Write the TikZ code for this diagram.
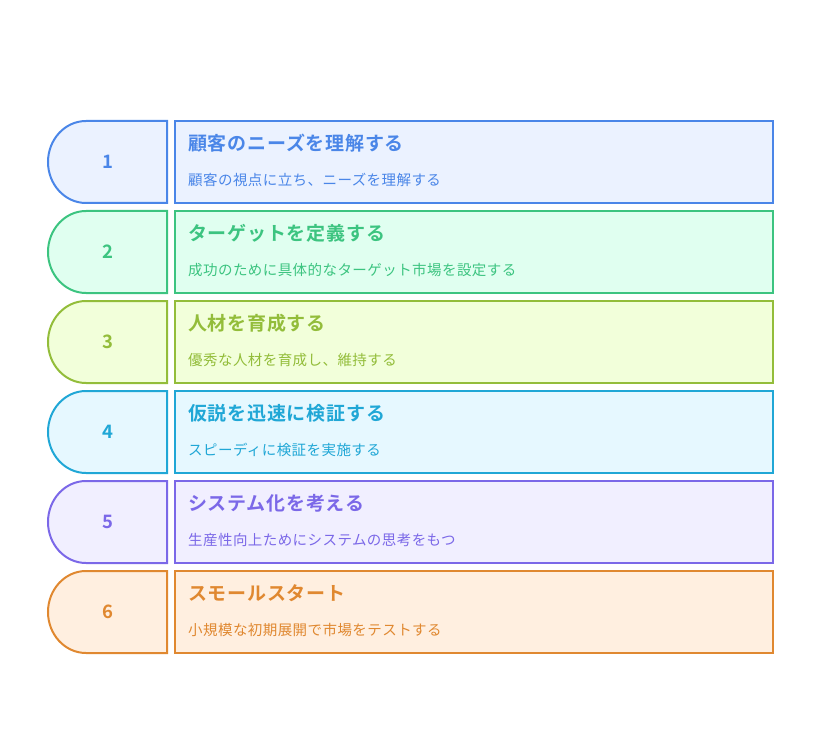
\documentclass[tikz,border=0pt]{standalone}
\usepackage{fontspec}
\setmainfont{Noto Sans CJK JP}[BoldFont={Noto Sans CJK JP Bold}]
\definecolor{c1}{RGB}{74,134,232}  \definecolor{f1}{RGB}{235,242,255}
\definecolor{c2}{RGB}{60,196,128}  \definecolor{f2}{RGB}{224,255,240}
\definecolor{c3}{RGB}{147,189,58}  \definecolor{f3}{RGB}{242,255,218}
\definecolor{c4}{RGB}{32,167,214}  \definecolor{f4}{RGB}{230,248,255}
\definecolor{c5}{RGB}{123,104,232} \definecolor{f5}{RGB}{241,239,255}
\definecolor{c6}{RGB}{224,136,48}  \definecolor{f6}{RGB}{255,239,224}
\begin{document}
\begin{tikzpicture}[x=1pt,y=-1pt,
  tab/.style={line width=2pt},
  box/.style={draw,line width=2pt,rectangle,anchor=north west,inner sep=0pt,
    outer sep=0pt,minimum width=598pt,minimum height=82pt},
  num/.style={font=\fontsize{18.5}{18.5}\selectfont\bfseries},
  ttl/.style={anchor=west,inner sep=0pt,
    font=\fontsize{19}{19}\selectfont\bfseries\addfontfeature{LetterSpace=4}},
  desc/.style={anchor=west,inner sep=0pt,
    font=\fontsize{14.5}{14.5}\selectfont\addfontfeature{LetterSpace=3}}]
\useasboundingbox (0,0) rectangle (822,738);
\foreach \i/\t/\d in {
  1/{顧客のニーズを理解する}/{顧客の視点に立ち、ニーズを理解する},
  2/{ターゲットを定義する}/{成功のために具体的なターゲット市場を設定する},
  3/{人材を育成する}/{優秀な人材を育成し、維持する},
  4/{仮説を迅速に検証する}/{スピーディに検証を実施する},
  5/{システム化を考える}/{生産性向上ためにシステムの思考をもつ},
  6/{スモールスタート}/{小規模な初期展開で市場をテストする}}
{
  \pgfmathsetmacro\top{121+90*(\i-1)}
  % left tab with rounded side
  \filldraw[tab,draw=c\i,fill=f\i] (167,\top) -- (86,\top)
    arc[start angle=270,end angle=90,x radius=38,y radius=41] -- (167,\top+82) -- cycle;
  \node[num,text=c\i] (num\i) at (108,\top+41) {\i};
  \node[box,draw=c\i,fill=f\i] (box\i) at (175,\top) {};
  \node[ttl,text=c\i] (ttl\i) at (188,\top+22) {\t};
  \node[desc,text=c\i] (desc\i) at (188,\top+59) {\d};
}
\end{tikzpicture}
\end{document}
